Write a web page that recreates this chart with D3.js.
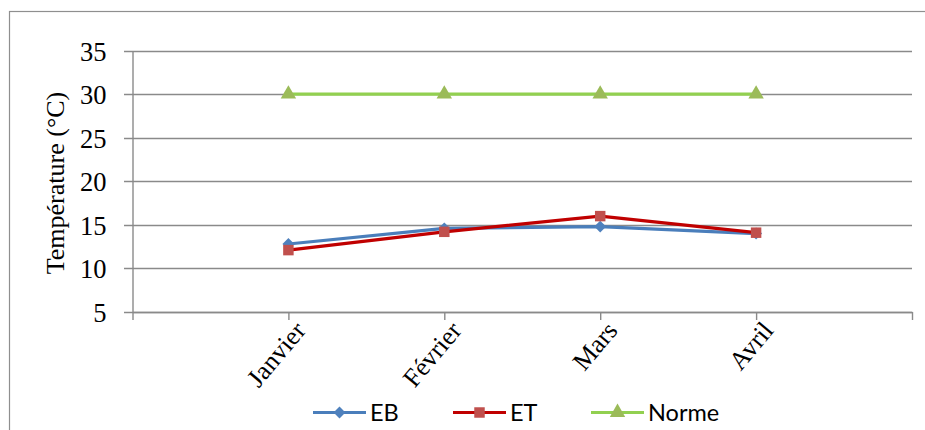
<!DOCTYPE html>
<html>
<head>
<meta charset="utf-8">
<script src="https://cdn.jsdelivr.net/npm/d3@7"></script>
<style>
  html, body { margin: 0; padding: 0; background: #fff; }
  svg { display: block; }
</style>
</head>
<body>
<svg id="chart" width="925" height="430"></svg>
<script>
// Monthly temperatures (°C)
const months = ["Janvier", "Février", "Mars", "Avril"];
const ebValues = [12.8, 14.6, 14.8, 14.0];
const etValues = [12.1, 14.2, 16.0, 14.1];
const normeValues = [30, 30, 30, 30];
const yTicks = [5, 10, 15, 20, 25, 30, 35];
const seriesNames = ["EB", "ET", "Norme"];

const svg = d3.select("#chart");
const W = 925, H = 430;

const plot = { left: 132.5, right: 912, top: 50.5, bottom: 312 };

// Category positions: one empty slot before and after the months
const x = d3.scaleLinear().domain([0, months.length + 1]).range([plot.left, plot.right]);
const y = d3.scaleLinear().domain([5, 35]).range([plot.bottom, plot.top]);

const gridColor = "#8a8a8a";
const serif = "'Liberation Serif', 'Times New Roman', serif";
const sans = "Lato, 'Liberation Sans', sans-serif";

// Outer chart frame
svg.append("rect")
  .attr("x", 9.5).attr("y", 11.5)
  .attr("width", W + 20).attr("height", H + 20)
  .attr("fill", "none").attr("stroke", "#8f8f8f").attr("stroke-width", 1.2);

// Horizontal gridlines (extend left as tick marks)
svg.append("g")
  .selectAll("line")
  .data(yTicks)
  .join("line")
  .attr("x1", plot.left - 8.5).attr("x2", plot.right)
  .attr("y1", d => Math.round(y(d)) + 0.5).attr("y2", d => Math.round(y(d)) + 0.5)
  .attr("stroke", gridColor).attr("stroke-width", 1.4);

// Y axis
const yAxis = d3.axisLeft(y).tickValues(yTicks).tickSize(0).tickPadding(26);
const gy = svg.append("g").attr("transform", `translate(${plot.left},0)`).call(yAxis);
gy.select(".domain").attr("stroke", gridColor).attr("stroke-width", 1.4);
gy.selectAll("text")
  .attr("font-family", serif).attr("font-size", 26.5).attr("fill", "#000")
  .attr("dy", "0.36em");

// X axis
const xAxis = d3.axisBottom(x)
  .tickValues(d3.range(0, months.length + 2))
  .tickFormat(i => months[i - 1] || "")
  .tickSize(8).tickSizeOuter(0).tickPadding(0);
const gx = svg.append("g").attr("transform", `translate(0,${plot.bottom})`).call(xAxis);
gx.select(".domain").attr("stroke", gridColor).attr("stroke-width", 1.4);
gx.selectAll(".tick line").attr("stroke", gridColor).attr("stroke-width", 1.4);
gx.selectAll("text")
  .attr("font-family", serif).attr("font-size", 26).attr("fill", "#000")
  .attr("text-anchor", "end")
  .attr("dy", 0)
  .attr("transform", "translate(12,14) rotate(-50)");

// Y axis title
svg.append("text")
  .attr("transform", `translate(64,183) rotate(-90)`)
  .attr("text-anchor", "middle")
  .attr("font-family", serif).attr("font-size", 26).attr("fill", "#000")
  .text("Température (°C)");

// Series
const series = [
  { name: seriesNames[0], values: ebValues, line: "#4A7EBB", marker: "#4F81BD", shape: d3.symbolDiamond2, size: 90 },
  { name: seriesNames[1], values: etValues, line: "#C00000", marker: "#C0504D", shape: d3.symbolSquare2, size: 140 },
  { name: seriesNames[2], values: normeValues, line: "#92D050", marker: "#9BBB59", shape: d3.symbolTriangle2, size: 170 }
];

const lineGen = d3.line().x((d, i) => x(i + 1)).y(d => y(d));

series.forEach(s => {
  const g = svg.append("g");
  g.append("path")
    .attr("d", lineGen(s.values))
    .attr("fill", "none").attr("stroke", s.line)
    .attr("stroke-width", 3.2).attr("stroke-linejoin", "round");
  g.selectAll("path.m")
    .data(s.values)
    .join("path")
    .attr("class", "m")
    .attr("transform", (d, i) => `translate(${x(i + 1)},${y(d)})`)
    .attr("d", d3.symbol().type(s.shape).size(s.size))
    .attr("fill", s.marker).attr("stroke", "none");
});

// Legend
const legendX = [313, 453, 591];
const legend = svg.append("g");
series.forEach((s, i) => {
  const lg = legend.append("g").attr("transform", `translate(${legendX[i]},412.5)`);
  lg.append("line").attr("x1", 0).attr("x2", 53).attr("y1", 0).attr("y2", 0)
    .attr("stroke", s.line).attr("stroke-width", 3.2);
  lg.append("path")
    .attr("transform", "translate(26.5,0)")
    .attr("d", d3.symbol().type(s.shape).size(s.size))
    .attr("fill", s.marker);
  lg.append("text")
    .attr("x", 57).attr("y", 0).attr("dy", "0.36em")
    .attr("font-family", sans).attr("font-size", 23.5).attr("fill", "#000")
    .text(s.name);
});
</script>
</body>
</html>
